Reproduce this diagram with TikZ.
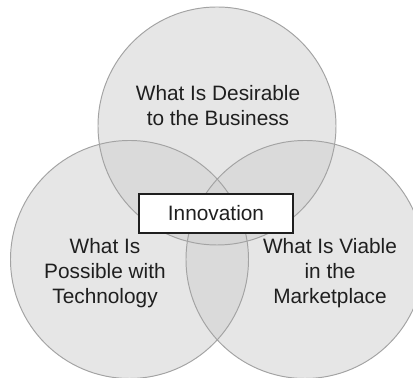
\documentclass[tikz,border=0pt]{standalone}
\usepackage{fontspec}
\setmainfont{Liberation Sans}
\usetikzlibrary{positioning}
\definecolor{setfill}{gray}{0.82}
\definecolor{setline}{gray}{0.64}
\definecolor{ink}{gray}{0.12}

\begin{document}
\begin{tikzpicture}
        [
            x=0.02cm, y=0.02cm,
            set/.style = {fill=setfill, fill opacity=0.55},
            ring/.style = {draw=setline, line width=0.55pt},
            label/.style = {align=center, text=ink, inner sep=0pt,
                font=\fontsize{11.85}{14.2}\selectfont},
            box/.style = {draw=ink, line width=0.6pt, fill=white, text=ink,
                minimum width=3.08cm, minimum height=0.78cm, inner sep=0pt,
                font=\fontsize{11.85}{14.2}\selectfont}
        ]%
        \useasboundingbox (0,0) rectangle (413,378);
        \coordinate (desire) at (217,252);
        \coordinate (tech) at (129.5,118.5);
        \coordinate (market) at (305,118.5);
        \foreach \c in {desire, tech, market}
            \fill[set] (\c) circle [radius=119];
        \foreach \c in {desire, tech, market}
            \draw[ring] (\c) circle [radius=119];
        \node[label] (desirable) at (218,272.5) {What Is Desirable\\to the Business};
        \node[label] (possible) at (105,104.5) {What Is\\Possible with\\Technology};
        \node[label] (viable) at (330,104.5) {What Is Viable\\in the\\Marketplace};
        \node[box] (innovation) at (216,164.5) {Innovation};
        \end{tikzpicture}
\end{document}
